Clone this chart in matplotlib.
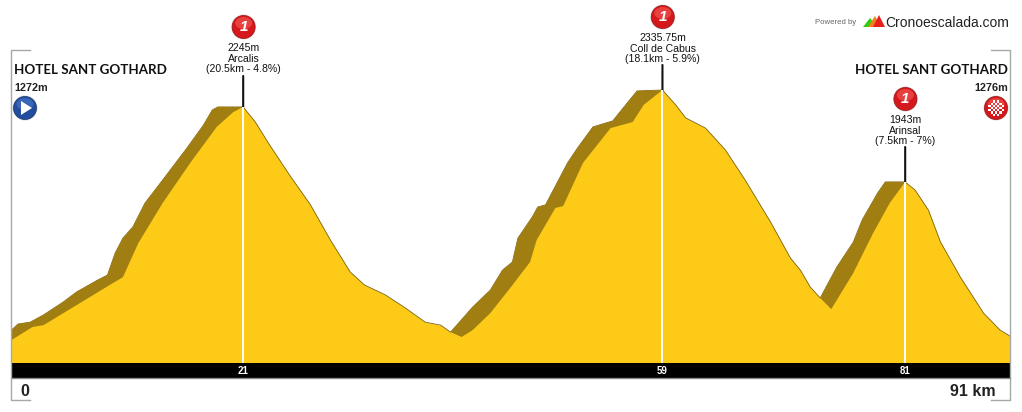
import numpy as np
import matplotlib
matplotlib.use("Agg")
import matplotlib.pyplot as plt
from matplotlib.patches import Circle, Ellipse, Polygon

plt.rcParams['font.family'] = ['Liberation Sans', 'DejaVu Sans']

# profile
km = [0, 0.6, 1.7, 2.9, 4.7, 5.9, 7.8, 8.7, 9.4, 10.1, 11.0, 12.1, 13.7, 15.9, 17.4, 18.2, 18.7, 21.0,
      22.1, 23.4, 25.2, 27.1, 28.9, 30.7, 32.0, 33.9, 35.7, 37.5, 38.9, 39.8,
      41.8, 43.4, 44.5, 45.4, 45.9, 47.2, 47.7, 48.4, 50.4, 51.3, 52.7, 54.5, 55.8, 56.7, 59.0,
      60.2, 61.1, 62.9, 64.7, 66.5, 68.8, 70.6, 71.5, 72.4, 73.3,
      74.8, 76.3, 77.1, 78.5, 79.2, 81.0,
      81.9, 83.1, 84.2, 86.0, 88.1, 89.6, 90.5]
elev = [1284, 1310, 1318, 1349, 1405, 1448, 1499, 1521, 1616, 1680, 1728, 1831, 1930, 2068, 2167, 2232, 2245, 2245,
        2180, 2081, 1952, 1823, 1672, 1534, 1478, 1435, 1379, 1318, 1305, 1275,
        1383, 1456, 1542, 1577, 1680, 1771, 1814, 1823, 2004, 2068, 2159, 2185, 2262, 2314, 2318,
        2254, 2198, 2154, 2060, 1930, 1749, 1594, 1542, 1469, 1422,
        1555, 1663, 1758, 1874, 1922, 1922,
        1887, 1801, 1663, 1512, 1357, 1284, 1258]

# lower edge of the darker band on each climb
band_km = [[0, 1.9, 2.9, 6.2, 8.9, 10.1, 11.5, 13.7, 16.2, 18.6, 20.1, 21.0],
           [39.8, 40.8, 41.8, 43.4, 45.2, 47.0, 47.6, 49.3, 50.0, 51.8, 54.3, 56.3, 57.3, 59.0],
           [73.3, 74.3, 76.3, 78.1, 79.6, 81.0]]
band_elev = [[1241, 1297, 1305, 1400, 1478, 1512, 1659, 1831, 2004, 2159, 2223, 2245],
             [1275, 1254, 1284, 1357, 1465, 1577, 1672, 1810, 1818, 2004, 2154, 2180, 2254, 2318],
             [1422, 1374, 1530, 1702, 1831, 1922]]

summit_km = [21, 59, 81]
summit_elev = [2245, 2318, 1922]
summit_labels = [["2245m", "Arcalis", "(20.5km - 4.8%)"],
                 ["2335.75m", "Coll de Cabus", "(18.1km - 5.9%)"],
                 ["1943m", "Arinsal", "(7.5km - 7%)"]]
summit_tick = ["21", "59", "81"]

start_name = "HOTEL SANT GOTHARD"
start_alt = "1272m"
finish_alt = "1276m"

W, H = 1022, 412
YELLOW = '#FDCB17'
BAND = '#A07E12'
GREY = '#A8A8A8'
km = np.array(km, dtype=float)
elev = np.array(elev, dtype=float)

fig = plt.figure(figsize=(W / 100, H / 100), dpi=100, facecolor='white')

# main profile axes
ax = fig.add_axes([11.5 / W, (H - 363) / H, (1010 - 11.5) / W, (363 - 48) / H])
ax.set_xlim(0, 90.5)
ax.set_ylim(1142, 2499)
ax.axis('off')
ax.fill_between(km, 1142, elev, color=YELLOW, lw=0, zorder=1)
ax.plot(km, elev, color='#7a6210', lw=0.6, zorder=2)

# darker band on the climbs
for bx, by in zip(band_km, band_elev):
    m = (km >= bx[0]) & (km <= bx[-1])
    xs = np.r_[km[m], bx[::-1]]
    ys = np.r_[elev[m], by[::-1]]
    ax.fill(xs, ys, color=BAND, lw=0, zorder=3)

ax.vlines(summit_km, 1142, summit_elev, color='white', lw=1.4, zorder=4)

# everything else in pixel coordinates
deco = fig.add_axes([0, 0, 1, 1], facecolor='none')
deco.set_xlim(0, W)
deco.set_ylim(H, 0)
deco.axis('off')

# frame brackets
deco.plot([30, 11, 11, 30], [50, 50, 400, 400], color=GREY, lw=1)
deco.plot([991, 1010, 1010, 991], [50, 50, 400, 400], color=GREY, lw=1)

# km bar
deco.fill_between([11.5, 1010], 363, 377.5, color='black', lw=0)
deco.plot([11.5, 1010], [378, 378], color='#888888', lw=1)
for k, t in zip(summit_km, summit_tick):
    deco.text(11.5 + k * 11.03, 371, t, color='white', fontsize=7, fontweight='bold',
              ha='center', va='center')
deco.text(25, 392, "0", fontsize=11.5, fontweight='bold', color='#222222', ha='center', va='center')
deco.text(996, 392, "91 km", fontsize=11.5, fontweight='bold', color='#222222', ha='right', va='center')


def badge(x, y, color, edge, shine):
    deco.add_patch(Circle((x, y), 12.5, fc='#d8d8d8', ec='none', zorder=5))
    deco.add_patch(Circle((x, y), 11.5, fc=color, ec=edge, lw=0.5, zorder=6))
    deco.add_patch(Ellipse((x, y - 4), 17, 12, fc=shine, ec='none', zorder=6))


# summit markers
icon_y = [27, 17, 99]
text_y = [48, 38, 120]
top_y = [76, 65, 147]
for k, e, lab, iy, ty, tp in zip(summit_km, summit_elev, summit_labels, icon_y, text_y, top_y):
    x = 11.5 + k * 11.03
    badge(x + 0.5, iy, '#D4181C', '#9c0f12', '#E8403F')
    deco.text(x + 0.5, iy, "1", color='white', fontsize=11, fontweight='bold', style='italic',
              ha='center', va='center', zorder=7)
    for i, line in enumerate(lab):
        deco.text(x + 0.5, ty + i * 10.5, line, fontsize=7.6, color='#111111', ha='center', va='center')
    ax.annotate("", xy=(k, e), xytext=(k, 2245 + (107 - tp) * 4.31),
                arrowprops=dict(arrowstyle='-', color='#111111', lw=1.5, shrinkA=0, shrinkB=0))

# start and finish names
deco.text(14, 70, start_name, fontsize=9.6, family=['Lato', 'Liberation Sans'],
          color='#111111', fontweight='bold', ha='left', va='center')
deco.text(1008, 70, start_name, fontsize=9.6, family=['Lato', 'Liberation Sans'],
          color='#111111', fontweight='bold', ha='right', va='center')
deco.text(14, 88, start_alt, fontsize=7.8, fontweight='bold', color='#222222', ha='left', va='center')
deco.text(1008, 88, finish_alt, fontsize=7.8, fontweight='bold', color='#222222', ha='right', va='center')

# start icon
badge(25, 108, '#234C9E', '#17336e', '#3A66B8')
deco.add_patch(Polygon([[21, 101], [21, 115], [32, 108]], fc='white', ec='none', zorder=7))

# finish icon with checker
badge(996, 108, '#D4181C', '#9c0f12', '#E8403F')
for i in range(-3, 4):
    for j in range(-3, 4):
        if (i + j) % 2 == 0 and i * i + j * j < 11:
            cx, cy = 996 + i * 2.2, 108 + j * 2.2
            deco.add_patch(Polygon([[cx - 1.1, cy - 1.1], [cx + 1.1, cy - 1.1],
                                    [cx + 1.1, cy + 1.1], [cx - 1.1, cy + 1.1]],
                                   fc='white', ec='none', zorder=7))

# logo
deco.text(836, 22, "Powered by", fontsize=5.6, color='#666666', ha='center', va='center')
deco.add_patch(Polygon([[863, 27], [870, 18], [877, 27]], fc='#33CC11', ec='none'))
deco.add_patch(Polygon([[868, 27], [875, 16], [881, 27]], fc='#F08020', ec='none'))
deco.add_patch(Polygon([[873, 27], [879, 15], [885, 27]], fc='#E8201C', ec='none'))
deco.text(885, 22.5, "Cronoescalada.com", fontsize=10, color='#222222', ha='left', va='center')

fig.savefig('out.png', dpi=100)
